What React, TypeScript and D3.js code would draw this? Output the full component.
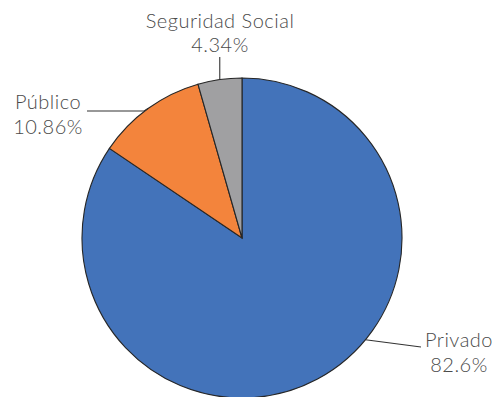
import React from "react";
import * as d3 from "d3";

const categories = ["Privado", "Público", "Seguridad Social"];
const values = [82.6, 10.86, 4.34];
const valueLabels = ["82.6%", "10.86%", "4.34%"];
const colors = ["#4373BA", "#F3843C", "#A0A0A2"];

export default function App() {
  const W = 496, H = 397;
  const cx = 242, cy = 238, r = 160;
  const pie = d3.pie<number>().sort(null).value((d) => d);
  const arcs = pie(values);
  const arc = d3.arc<d3.PieArcDatum<number>>().innerRadius(0).outerRadius(r);
  const font = "Lato, 'Open Sans', sans-serif";
  const textColor = "#4a4a4a";

  const labelPos = [
    { x: 459, y1: 347, y2: 372, anchor: "middle" },
    { x: 48, y1: 109, y2: 134, anchor: "middle" },
    { x: 220, y1: 28, y2: 52, anchor: "middle" },
  ];
  const pointAt = (a: number, rad: number) => [cx + rad * Math.sin(a), cy - rad * Math.cos(a)];

  const leaders = arcs.map((a, i) => {
    if (i === 0) {
      const ang = 2.26;
      const [x0, y0] = pointAt(ang, r);
      return `M${x0},${y0}L421,347`;
    }
    if (i === 1) {
      const ang = (a.startAngle + a.endAngle) / 2;
      const [x0, y0] = pointAt(ang, r);
      return `M${x0},${y0}L${x0 - 4},111L87,111`;
    }
    const ang = (a.startAngle + a.endAngle) / 2;
    const [x0, y0] = pointAt(ang, r);
    return `M${x0},${y0}L${x0},57`;
  });

  return (
    <svg width={W} height={H} style={{ position: "absolute", left: 0, top: 0 }}>
      <g transform={`translate(${cx},${cy})`}>
        {arcs.map((a, i) => (
          <path key={i} d={arc(a) || ""} fill={colors[i]} stroke="#262626" strokeWidth={1.1} />
        ))}
      </g>
      {leaders.map((d, i) => (
        <path key={i} d={d} fill="none" stroke="#333" strokeWidth={1.1} />
      ))}
      {categories.map((c, i) => (
        <g key={c} fontFamily={font} fontWeight={300} fontSize={20} letterSpacing={0.5} fill={textColor} textAnchor={labelPos[i].anchor as any}>
          <text x={labelPos[i].x} y={labelPos[i].y1}>{c}</text>
          <text x={labelPos[i].x} y={labelPos[i].y2}>{valueLabels[i]}</text>
        </g>
      ))}
    </svg>
  );
}
